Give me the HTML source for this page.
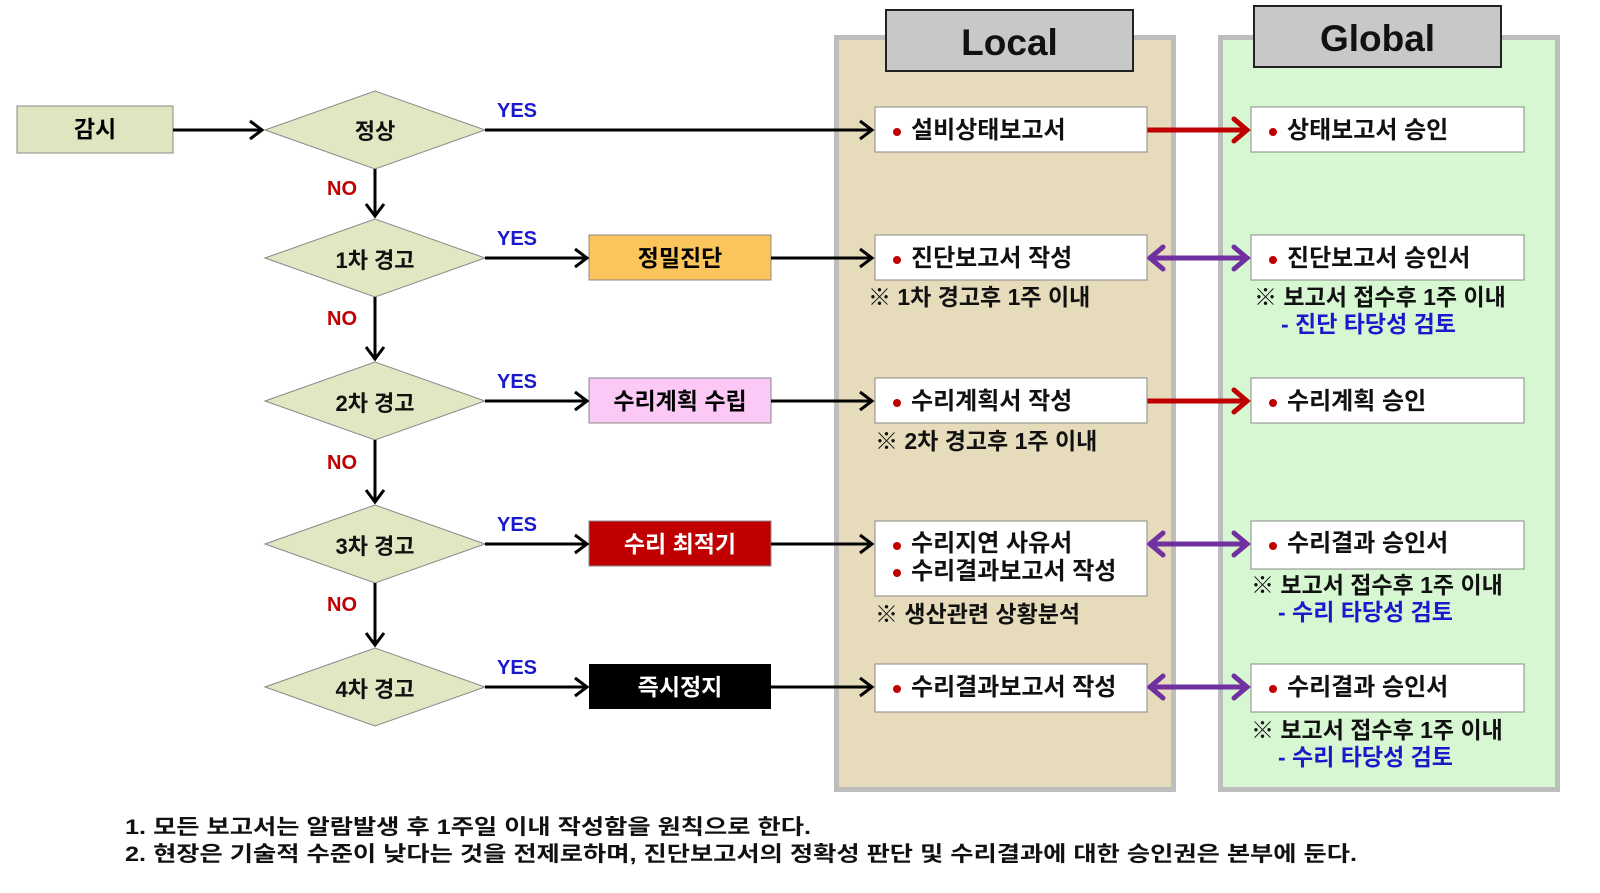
<!DOCTYPE html>
<html><head><meta charset="utf-8"><style>
html,body{margin:0;padding:0;background:#fff;}
svg{display:block;}
text{font-family:"Liberation Sans","Noto Sans CJK KR",sans-serif;font-weight:bold;}
</style></head><body>
<svg width="1600" height="893" viewBox="0 0 1600 893" xmlns="http://www.w3.org/2000/svg">
<rect x="836.5" y="37.5" width="337" height="752" fill="#e6dcbc" stroke="#bdbdbd" stroke-width="5"/>
<rect x="1220.5" y="37.5" width="337" height="752" fill="#d6f7d2" stroke="#bdbdbd" stroke-width="5"/>
<rect x="886" y="10" width="247" height="61" fill="#c8c8c8" stroke="#222" stroke-width="2"/>
<text x="1009.5" y="55" font-size="37" text-anchor="middle" fill="#111">Local</text>
<rect x="1254" y="6" width="247" height="61" fill="#c8c8c8" stroke="#222" stroke-width="2"/>
<text x="1377.5" y="51" font-size="37" text-anchor="middle" fill="#111">Global</text>

<rect x="17" y="106" width="156" height="47" fill="#dfe6bf" stroke="#888" stroke-width="1"/>
<text x="95" y="137" font-size="23" text-anchor="middle">감시</text>

<g fill="#e2e6c2" stroke="#888" stroke-width="1">
<polygon points="265,130 375,91 485,130 375,169"/>
<polygon points="265,258 375,219 485,258 375,297"/>
<polygon points="265,401 375,362 485,401 375,440"/>
<polygon points="265,544 375,505 485,544 375,583"/>
<polygon points="265,687 375,648 485,687 375,726"/>
</g>
<g font-size="22" text-anchor="middle" fill="#111">
<text x="375" y="139">정상</text>
<text x="375" y="268">1차 경고</text>
<text x="375" y="411">2차 경고</text>
<text x="375" y="554">3차 경고</text>
<text x="375" y="697">4차 경고</text>
</g>
<g font-size="20" fill="#1a1acc" font-family="Liberation Sans">
<text x="497" y="117">YES</text><text x="497" y="245">YES</text><text x="497" y="388">YES</text><text x="497" y="531">YES</text><text x="497" y="674">YES</text>
</g>
<g font-size="20" fill="#c00000">
<text x="327" y="195">NO</text><text x="327" y="325">NO</text><text x="327" y="469">NO</text><text x="327" y="611">NO</text>
</g>

<rect x="589" y="235" width="182" height="45" fill="#fcc55c" stroke="#888"/>
<text x="680" y="266" font-size="23" text-anchor="middle">정밀진단</text>
<rect x="589" y="378" width="182" height="45" fill="#fcc8f6" stroke="#888"/>
<text x="680" y="409" font-size="23" text-anchor="middle">수리계획 수립</text>
<rect x="589" y="521" width="182" height="45" fill="#c00000" stroke="#888"/>
<text x="680" y="552" font-size="23" text-anchor="middle" fill="#fff">수리 최적기</text>
<rect x="589" y="664" width="182" height="45" fill="#000"/>
<text x="680" y="695" font-size="23" text-anchor="middle" fill="#fff">즉시정지</text>

<g stroke="#000" stroke-width="3" fill="none">
<line x1="173" y1="130" x2="262" y2="130"/><polyline points="250,121 262,130 250,139"/>
<line x1="485" y1="130" x2="872" y2="130"/><polyline points="860,121 872,130 860,139"/>
<line x1="375" y1="169" x2="375" y2="216"/><polyline points="366,204 375,216 384,204"/>
<line x1="375" y1="297" x2="375" y2="359"/><polyline points="366,347 375,359 384,347"/>
<line x1="375" y1="440" x2="375" y2="502"/><polyline points="366,490 375,502 384,490"/>
<line x1="375" y1="583" x2="375" y2="645"/><polyline points="366,633 375,645 384,633"/>
<line x1="485" y1="258" x2="587" y2="258"/><polyline points="575,249 587,258 575,267"/>
<line x1="485" y1="401" x2="587" y2="401"/><polyline points="575,392 587,401 575,410"/>
<line x1="485" y1="544" x2="587" y2="544"/><polyline points="575,535 587,544 575,553"/>
<line x1="485" y1="687" x2="587" y2="687"/><polyline points="575,678 587,687 575,696"/>
<line x1="771" y1="258" x2="872" y2="258"/><polyline points="860,249 872,258 860,267"/>
<line x1="771" y1="401" x2="872" y2="401"/><polyline points="860,392 872,401 860,410"/>
<line x1="771" y1="544" x2="872" y2="544"/><polyline points="860,535 872,544 860,553"/>
<line x1="771" y1="687" x2="872" y2="687"/><polyline points="860,678 872,687 860,696"/>
</g>
<g stroke="#c00000" stroke-width="5" fill="none" stroke-linecap="round">
<line x1="1147" y1="130" x2="1246" y2="130"/><polyline points="1234,119 1247,130 1234,141"/>
<line x1="1147" y1="401" x2="1246" y2="401"/><polyline points="1234,390 1247,401 1234,412"/>
</g>
<g stroke="#7030a0" stroke-width="5" fill="none" stroke-linecap="round">
<line x1="1150" y1="258" x2="1247" y2="258"/><polyline points="1234,247 1247,258 1234,269"/><polyline points="1163,247 1150,258 1163,269"/>
<line x1="1150" y1="544" x2="1247" y2="544"/><polyline points="1234,533 1247,544 1234,555"/><polyline points="1163,533 1150,544 1163,555"/>
<line x1="1150" y1="687" x2="1247" y2="687"/><polyline points="1234,676 1247,687 1234,698"/><polyline points="1163,676 1150,687 1163,698"/>
</g>

<g fill="#fff" stroke="#888" stroke-width="1">
<rect x="875" y="107" width="272" height="45"/>
<rect x="875" y="235" width="272" height="45"/>
<rect x="875" y="378" width="272" height="45"/>
<rect x="875" y="521" width="272" height="75"/>
<rect x="875" y="664" width="272" height="48"/>
<rect x="1251" y="107" width="273" height="45"/>
<rect x="1251" y="235" width="273" height="45"/>
<rect x="1251" y="378" width="273" height="45"/>
<rect x="1251" y="521" width="273" height="48"/>
<rect x="1251" y="664" width="273" height="48"/>
</g>
<g fill="#c00000">
<circle cx="897" cy="132" r="4"/><circle cx="897" cy="260" r="4"/><circle cx="897" cy="403" r="4"/>
<circle cx="897" cy="546" r="4"/><circle cx="897" cy="573" r="4"/><circle cx="897" cy="689" r="4"/>
<circle cx="1273" cy="132" r="4"/><circle cx="1273" cy="260" r="4"/><circle cx="1273" cy="403" r="4"/>
<circle cx="1273" cy="546" r="4"/><circle cx="1273" cy="689" r="4"/>
</g>
<g font-size="24" fill="#111">
<text x="911" y="138">설비상태보고서</text>
<text x="911" y="266">진단보고서 작성</text>
<text x="911" y="409">수리계획서 작성</text>
<text x="911" y="551">수리지연 사유서</text>
<text x="911" y="579">수리결과보고서 작성</text>
<text x="911" y="695">수리결과보고서 작성</text>
<text x="1287" y="138">상태보고서 승인</text>
<text x="1287" y="266">진단보고서 승인서</text>
<text x="1287" y="409">수리계획 승인</text>
<text x="1287" y="551">수리결과 승인서</text>
<text x="1287" y="695">수리결과 승인서</text>
</g>
<g font-size="23" fill="#111">
<text x="868" y="305">※ 1차 경고후 1주 이내</text>
<text x="875" y="449">※ 2차 경고후 1주 이내</text>
<text x="875" y="622">※ 생산관련 상황분석</text>
<text x="1254" y="305">※ 보고서 접수후 1주 이내</text>
<text x="1251" y="593">※ 보고서 접수후 1주 이내</text>
<text x="1251" y="738">※ 보고서 접수후 1주 이내</text>
</g>
<g font-size="23" fill="#1a1acc">
<text x="1281" y="332">- 진단 타당성 검토</text>
<text x="1278" y="620">- 수리 타당성 검토</text>
<text x="1278" y="765">- 수리 타당성 검토</text>
</g>
<g font-size="21" fill="#111" font-weight="normal">
<text x="125" y="834" textLength="686" lengthAdjust="spacingAndGlyphs">1.  모든 보고서는 알람발생 후 1주일 이내 작성함을 원칙으로 한다.</text>
<text x="125" y="861" textLength="1232" lengthAdjust="spacingAndGlyphs">2.  현장은 기술적 수준이 낮다는 것을 전제로하며, 진단보고서의 정확성 판단 및 수리결과에 대한 승인권은 본부에 둔다.</text>
</g>
</svg>
</body></html>
